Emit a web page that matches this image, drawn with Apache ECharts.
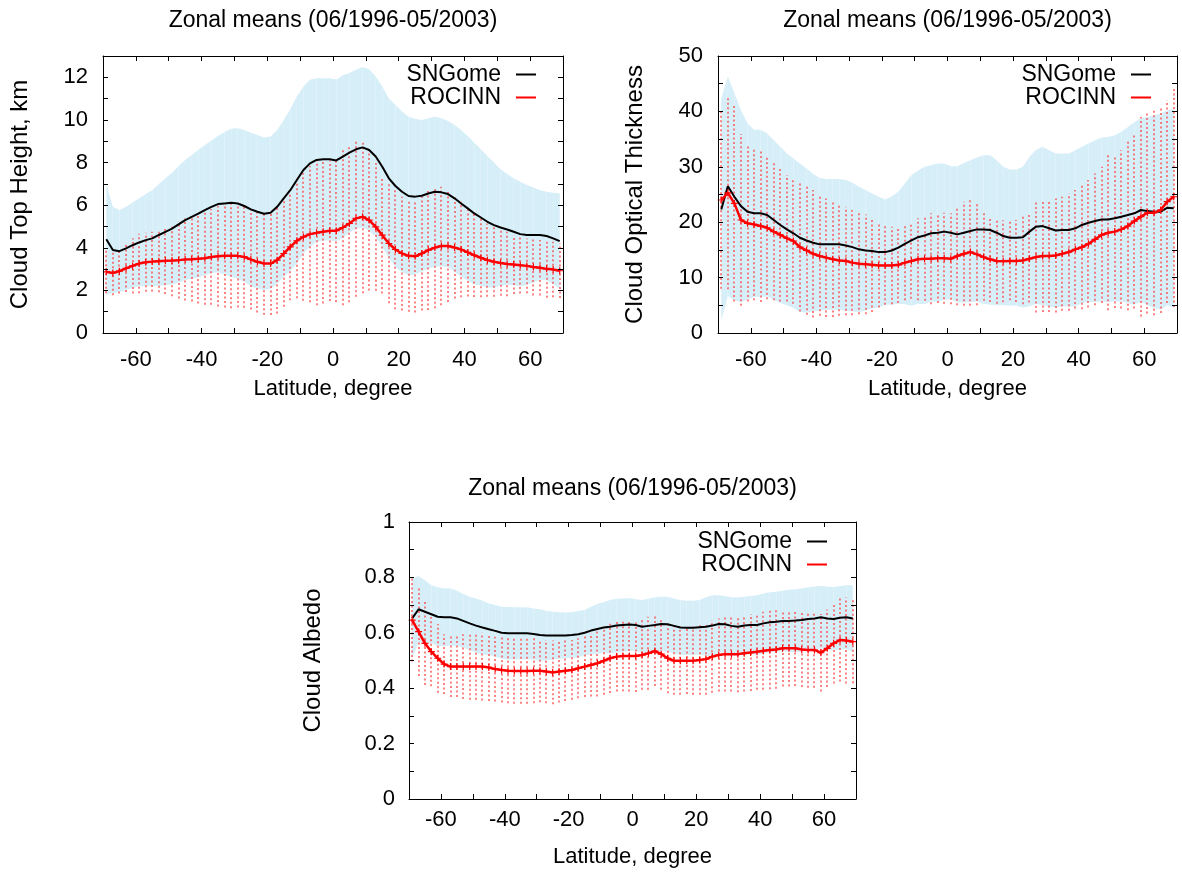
<!DOCTYPE html>
<html>
<head>
<meta charset="utf-8">
<title>Zonal means</title>
<script src="https://cdn.jsdelivr.net/npm/echarts@6/dist/echarts.min.js"></script>
<style>
  html, body { margin: 0; padding: 0; background: #fff; }
  #chart { width: 1182px; height: 872px; }
</style>
</head>
<body>
<div id="chart"></div>
<script>
// latitude of every sample (degrees)
const lat = [-69, -67, -65, -63, -61, -59, -57, -55, -53, -51, -49, -47, -45, -43, -41, -39, -37, -35, -33, -31,
  -29, -27, -25, -23, -21, -19, -17, -15, -13, -11, -9, -7, -5, -3, -1, 1, 3, 5, 7, 9,
  11, 13, 15, 17, 19, 21, 23, 25, 27, 29, 31, 33, 35, 37, 39, 41, 43, 45, 47, 49,
  51, 53, 55, 57, 59, 61, 63, 65, 67, 69]

// Cloud top height, km
const cthSng = [4.4, 3.9, 3.84, 3.97, 4.12, 4.25, 4.36, 4.44, 4.6, 4.75, 4.9, 5.1, 5.3, 5.45, 5.6, 5.77, 5.92, 6.05, 6.08, 6.11,
  6.08, 5.96, 5.8, 5.69, 5.6, 5.64, 5.92, 6.32, 6.7, 7.18, 7.65, 7.96, 8.12, 8.15, 8.15, 8.1, 8.28, 8.46, 8.62, 8.71,
  8.59, 8.28, 7.8, 7.26, 6.9, 6.63, 6.43, 6.4, 6.44, 6.55, 6.63, 6.6, 6.52, 6.32, 6.08, 5.85, 5.61, 5.42, 5.22, 5.06,
  4.95, 4.86, 4.75, 4.64, 4.6, 4.6, 4.6, 4.55, 4.44, 4.31]
const cthSngStd = [2.6, 2.02, 1.93, 1.95, 2.01, 2.07, 2.16, 2.26, 2.39, 2.51, 2.62, 2.74, 2.82, 2.9, 2.99, 3.05, 3.11, 3.2, 3.35, 3.47,
  3.53, 3.57, 3.6, 3.6, 3.58, 3.58, 3.61, 3.68, 3.8, 3.92, 3.92, 3.92, 3.84, 3.81, 3.81, 3.8, 3.82, 3.74, 3.73, 3.77,
  3.79, 3.76, 3.77, 3.74, 3.8, 3.77, 3.72, 3.65, 3.56, 3.53, 3.52, 3.48, 3.43, 3.44, 3.45, 3.4, 3.32, 3.2, 3.09, 2.94,
  2.73, 2.6, 2.51, 2.46, 2.34, 2.23, 2.1, 2.08, 2.14, 2.24]
const cthRoc = [2.87, 2.82, 2.9, 3.03, 3.15, 3.26, 3.32, 3.35, 3.37, 3.39, 3.4, 3.42, 3.45, 3.46, 3.48, 3.51, 3.57, 3.6, 3.62, 3.62,
  3.62, 3.57, 3.45, 3.34, 3.26, 3.26, 3.42, 3.73, 4.04, 4.33, 4.51, 4.64, 4.7, 4.75, 4.8, 4.8, 4.95, 5.14, 5.38, 5.45,
  5.3, 4.98, 4.59, 4.2, 3.92, 3.73, 3.62, 3.6, 3.73, 3.89, 4.01, 4.08, 4.08, 4.01, 3.92, 3.78, 3.65, 3.53, 3.42, 3.34,
  3.29, 3.24, 3.21, 3.18, 3.15, 3.1, 3.06, 3.01, 2.98, 2.92]
const cthRocStd = [1.0, 1.05, 1.05, 1.1, 1.3, 1.4, 1.38, 1.4, 1.46, 1.56, 1.68, 1.8, 1.92, 1.98, 2.1, 2.18, 2.25, 2.36, 2.42, 2.46,
  2.42, 2.38, 2.35, 2.38, 2.4, 2.42, 2.5, 2.5, 2.5, 2.7, 3.0, 3.2, 3.4, 3.37, 3.3, 3.35, 3.65, 3.7, 3.68, 3.58,
  3.3, 3.0, 2.74, 2.8, 2.8, 2.67, 2.62, 2.64, 2.67, 2.81, 2.85, 2.78, 2.62, 2.39, 2.24, 2.07, 1.96, 1.85, 1.72, 1.64,
  1.54, 1.51, 1.38, 1.33, 1.29, 1.34, 1.3, 1.35, 1.3, 1.28]

// Cloud optical thickness
const cotSng = [22.3, 26.5, 24.6, 22.9, 21.9, 21.6, 21.6, 21.3, 20.4, 19.5, 18.7, 18.0, 17.2, 16.7, 16.3, 16.0, 16.0, 16.0, 16.0, 15.8,
  15.5, 15.1, 14.9, 14.8, 14.6, 14.6, 14.9, 15.4, 16.1, 16.7, 17.3, 17.6, 18.0, 18.1, 18.3, 18.1, 17.8, 18.1, 18.4, 18.7,
  18.7, 18.6, 18.1, 17.5, 17.2, 17.2, 17.3, 18.3, 19.2, 19.3, 18.9, 18.5, 18.6, 18.6, 18.9, 19.5, 19.9, 20.2, 20.5, 20.5,
  20.7, 21.0, 21.3, 21.6, 22.2, 22.0, 21.9, 21.9, 22.6, 22.5]
const cotSngStd = [20.0, 19.8, 18.7, 17.3, 15.9, 15.1, 15.1, 14.7, 14.4, 14.1, 13.7, 13.5, 13.4, 13.0, 12.4, 12.0, 11.8, 11.8, 11.8, 11.8,
  11.6, 11.3, 10.9, 10.4, 10.0, 9.5, 9.8, 10.1, 10.9, 11.8, 12.0, 12.4, 12.3, 12.5, 12.3, 12.0, 12.3, 12.6, 12.8, 13.0,
  13.4, 13.5, 13.1, 12.5, 12.3, 12.3, 12.7, 13.5, 13.9, 14.3, 14.1, 13.9, 13.8, 13.8, 14.1, 14.1, 14.3, 14.6, 14.8, 14.9,
  15.0, 15.3, 15.9, 16.5, 16.5, 17.0, 17.4, 17.7, 17.6, 18.0]
const cotRoc = [24.0, 25.3, 23.4, 20.4, 19.8, 19.6, 19.3, 19.0, 18.3, 17.7, 17.1, 16.6, 15.5, 14.9, 14.3, 13.9, 13.6, 13.3, 13.1, 13.0,
  12.7, 12.5, 12.4, 12.3, 12.2, 12.2, 12.2, 12.3, 12.7, 13.0, 13.3, 13.4, 13.4, 13.5, 13.5, 13.4, 13.9, 14.3, 14.6, 14.2,
  13.7, 13.3, 13.0, 12.95, 13.0, 13.0, 13.1, 13.4, 13.7, 13.9, 13.9, 14.0, 14.3, 14.6, 15.1, 15.5, 16.1, 16.9, 17.7, 18.1,
  18.3, 18.7, 19.3, 20.2, 21.0, 21.7, 21.7, 22.2, 23.7, 24.6]
const cotRocStd = [16.0, 17.4, 17.7, 15.5, 14.1, 13.7, 13.7, 12.9, 12.4, 12.0, 11.4, 11.3, 11.6, 11.6, 11.5, 10.8, 10.7, 10.4, 10.0, 9.8,
  9.5, 9.1, 9.0, 8.5, 7.6, 7.1, 7.0, 6.9, 6.8, 6.8, 7.4, 7.6, 8.2, 8.1, 8.2, 8.2, 8.9, 9.4, 9.7, 9.2,
  7.9, 7.7, 7.7, 7.4, 7.1, 7.4, 7.9, 7.9, 10.0, 10.1, 10.1, 10.3, 10.3, 10.6, 10.7, 11.2, 11.5, 11.9, 12.3, 14.0,
  13.8, 14.3, 15.2, 15.8, 18.0, 18.2, 18.5, 18.6, 18.3, 19.9]

// Cloud albedo
const albSng = [0.652, 0.685, 0.676, 0.667, 0.658, 0.656, 0.656, 0.652, 0.643, 0.634, 0.626, 0.619, 0.613, 0.607, 0.6, 0.598, 0.598, 0.598, 0.598, 0.596,
  0.592, 0.59, 0.59, 0.59, 0.59, 0.592, 0.595, 0.6, 0.608, 0.614, 0.619, 0.622, 0.626, 0.628, 0.63, 0.628, 0.622, 0.625, 0.628, 0.632,
  0.631, 0.625, 0.619, 0.618, 0.618, 0.62, 0.622, 0.626, 0.632, 0.631, 0.625, 0.622, 0.626, 0.628, 0.628, 0.634, 0.638, 0.64, 0.643, 0.643,
  0.644, 0.646, 0.65, 0.652, 0.656, 0.652, 0.65, 0.654, 0.656, 0.652]
const albSngStd = [0.145, 0.12, 0.114, 0.105, 0.106, 0.104, 0.104, 0.1, 0.097, 0.096, 0.098, 0.097, 0.093, 0.093, 0.094, 0.095, 0.094, 0.094, 0.094, 0.092,
  0.093, 0.09, 0.086, 0.084, 0.083, 0.082, 0.084, 0.082, 0.086, 0.09, 0.092, 0.096, 0.097, 0.096, 0.096, 0.093, 0.096, 0.098, 0.1, 0.098,
  0.099, 0.099, 0.099, 0.098, 0.098, 0.098, 0.106, 0.11, 0.104, 0.102, 0.103, 0.106, 0.104, 0.105, 0.108, 0.108, 0.108, 0.108, 0.109, 0.112,
  0.113, 0.114, 0.114, 0.115, 0.113, 0.115, 0.114, 0.115, 0.116, 0.12]
const albRoc = [0.646, 0.604, 0.562, 0.532, 0.508, 0.487, 0.478, 0.478, 0.478, 0.478, 0.478, 0.478, 0.475, 0.469, 0.466, 0.463, 0.462, 0.462, 0.462, 0.463,
  0.463, 0.46, 0.457, 0.46, 0.463, 0.466, 0.472, 0.478, 0.484, 0.49, 0.499, 0.508, 0.514, 0.516, 0.516, 0.516, 0.52, 0.526, 0.534, 0.523,
  0.508, 0.499, 0.499, 0.499, 0.499, 0.502, 0.505, 0.514, 0.52, 0.523, 0.523, 0.523, 0.526, 0.529, 0.532, 0.535, 0.538, 0.54, 0.544, 0.544,
  0.544, 0.54, 0.538, 0.538, 0.528, 0.544, 0.562, 0.574, 0.572, 0.568]
const albRocStd = [0.15, 0.16, 0.15, 0.125, 0.124, 0.108, 0.11, 0.11, 0.117, 0.12, 0.12, 0.122, 0.121, 0.117, 0.118, 0.117, 0.118, 0.118, 0.118, 0.117,
  0.114, 0.114, 0.115, 0.112, 0.109, 0.108, 0.108, 0.11, 0.114, 0.12, 0.123, 0.125, 0.126, 0.127, 0.128, 0.13, 0.126, 0.132, 0.126, 0.129,
  0.126, 0.123, 0.123, 0.12, 0.123, 0.126, 0.129, 0.13, 0.132, 0.135, 0.135, 0.138, 0.138, 0.139, 0.138, 0.141, 0.142, 0.142, 0.138, 0.138,
  0.136, 0.136, 0.136, 0.136, 0.14, 0.14, 0.145, 0.15, 0.155, 0.15]

const TITLE = 'Zonal means (06/1996-05/2003)'
const FONT = '"Liberation Sans", Arial, Helvetica, sans-serif'

const panels = [
  {
    left: 103, top: 56, width: 460, height: 277, titleTop: 9, legendRight: 646, legendTop: 63,
    yMax: 13, yStep: 1, yShow: v => v % 2 === 0, yName: 'Cloud Top Height, km', yGap: 71,
    xMargin: 16, xNameGap: 45, yMargin: 15,
    sng: cthSng, sngStd: cthSngStd, roc: cthRoc, rocStd: cthRocStd
  },
  {
    left: 718, top: 56, width: 459, height: 277, titleTop: 9, legendRight: 31, legendTop: 63,
    yMax: 50, yStep: 5, yShow: v => v % 10 === 0, yName: 'Cloud Optical Thickness', yGap: 71,
    xMargin: 16, xNameGap: 45, yMargin: 15,
    sng: cotSng, sngStd: cotSngStd, roc: cotRoc, rocStd: cotRocStd
  },
  {
    left: 409, top: 522, width: 447, height: 277, titleTop: 477, legendRight: 355, legendTop: 530,
    yMax: 1, yStep: 0.1, yShow: v => Math.round(v * 10) % 2 === 0, yName: 'Cloud Albedo', yGap: 84,
    xMargin: 10, xNameGap: 47, yMargin: 14,
    sng: albSng, sngStd: albSngStd, roc: albRoc, rocStd: albRocStd
  }
]

const axisLine = { show: true, onZero: false, lineStyle: { color: '#000', width: 1 } }
const axisTick = { show: true, inside: true, length: 5, lineStyle: { color: '#000', width: 1 } }

const option = {
  animation: false,
  backgroundColor: '#fff',
  title: [], grid: [], xAxis: [], yAxis: [], legend: [], series: []
}

// plus marker of the ROCINN line
const plus = 'path://M-1,-6L1,-6L1,-1L6,-1L6,1L1,1L1,6L-1,6L-1,1L-6,1L-6,-1L-1,-1Z'

panels.forEach((p, i) => {
  option.title.push({
    text: TITLE, left: p.left + p.width / 2, top: p.titleTop, textAlign: 'center', padding: 0,
    textStyle: { fontFamily: FONT, fontSize: 23, fontWeight: 'normal', color: '#000' }
  })
  option.grid.push({ left: p.left, top: p.top, width: p.width, height: p.height })

  option.xAxis.push({
    type: 'value', gridIndex: i, min: -70, max: 70, interval: 10, z: 5,
    name: 'Latitude, degree', nameLocation: 'middle', nameGap: p.xNameGap,
    nameTextStyle: { fontFamily: FONT, fontSize: 22, color: '#000' },
    axisLine, axisTick, splitLine: { show: false },
    axisLabel: {
      margin: p.xMargin, fontFamily: FONT, fontSize: 22, color: '#000',
      formatter: v => (v % 20 === 0 ? String(v) : '')
    }
  }, {
    type: 'value', gridIndex: i, position: 'top', min: -70, max: 70, interval: 10, z: 5,
    axisLine, axisTick, splitLine: { show: false }, axisLabel: { show: false }
  })

  option.yAxis.push({
    type: 'value', gridIndex: i, min: 0, max: p.yMax, interval: p.yStep, z: 5,
    name: p.yName, nameLocation: 'middle', nameRotate: 90, nameGap: p.yGap,
    nameTextStyle: { fontFamily: FONT, fontSize: 24, color: '#000' },
    axisLine, axisTick, splitLine: { show: false },
    axisLabel: {
      margin: p.yMargin, fontFamily: FONT, fontSize: 22, color: '#000',
      formatter: v => (p.yShow(v) ? String(+v.toFixed(1)) : '')
    }
  }, {
    type: 'value', gridIndex: i, position: 'right', min: 0, max: p.yMax, interval: p.yStep, z: 5,
    axisLine, axisTick, splitLine: { show: false }, axisLabel: { show: false }
  })

  option.legend.push({
    right: p.legendRight, top: p.legendTop, orient: 'vertical', align: 'right',
    padding: 0, itemGap: 0, itemWidth: 20, itemHeight: 2, selectedMode: false,
    textStyle: { fontFamily: FONT, fontSize: 23, color: '#000', lineHeight: 23, padding: [0, 10, 0, 0] },
    data: [{ name: 'SNGome', icon: 'rect' }, { name: 'ROCINN', icon: 'rect' }]
  })

  const ax = { xAxisIndex: 2 * i, yAxisIndex: 2 * i }

  // SNGome mean +- std band, drawn as one quad per latitude step
  const band = []
  for (let k = 0; k < lat.length - 1; k++) {
    band.push([lat[k], p.sng[k] - p.sngStd[k], p.sng[k] + p.sngStd[k],
      lat[k + 1], p.sng[k + 1] - p.sngStd[k + 1], p.sng[k + 1] + p.sngStd[k + 1]])
  }
  option.series.push({
    ...ax, name: 'SNGome std', type: 'custom', z: 1, silent: true,
    data: band, encode: { x: [0, 3], y: [1, 2, 4, 5] },
    renderItem: (params, api) => {
      const a = api.coord([api.value(0), api.value(1)])
      const b = api.coord([api.value(0), api.value(2)])
      const c = api.coord([api.value(3), api.value(5)])
      const d = api.coord([api.value(3), api.value(4)])
      return { type: 'polygon', shape: { points: [a, b, c, d] }, style: { fill: '#d6eef8', stroke: null } }
    }
  })

  // ROCINN mean +- std error bars (dotted, slightly soft like the original raster)
  option.series.push({
    ...ax, name: 'ROCINN std', type: 'custom', z: 2, silent: true,
    data: lat.map((x, k) => [x, p.roc[k] - p.rocStd[k], p.roc[k] + p.rocStd[k]]),
    encode: { x: 0, y: [1, 2] },
    renderItem: (params, api) => {
      const lo = api.coord([api.value(0), api.value(1)])
      const hi = api.coord([api.value(0), api.value(2)])
      return {
        type: 'line',
        shape: { x1: Math.round(lo[0]), y1: lo[1], x2: Math.round(hi[0]), y2: hi[1] },
        style: { stroke: '#ff3030', lineWidth: 1.2, lineDash: [2, 2.5] }
      }
    }
  })

  option.series.push({
    ...ax, name: 'SNGome', type: 'line', z: 3, symbol: 'none', silent: true,
    data: lat.map((x, k) => [x, p.sng[k]]),
    lineStyle: { color: '#000', width: 2 }, itemStyle: { color: '#000' }
  })
  option.series.push({
    ...ax, name: 'ROCINN', type: 'line', z: 4, symbol: plus, symbolSize: 7, showSymbol: true, silent: true,
    data: lat.map((x, k) => [x, p.roc[k]]),
    lineStyle: { color: '#ff0000', width: 2.5 }, itemStyle: { color: '#ff0000' }
  })
})

const chart = echarts.init(document.getElementById('chart'))
chart.setOption(option)
</script>
</body>
</html>
